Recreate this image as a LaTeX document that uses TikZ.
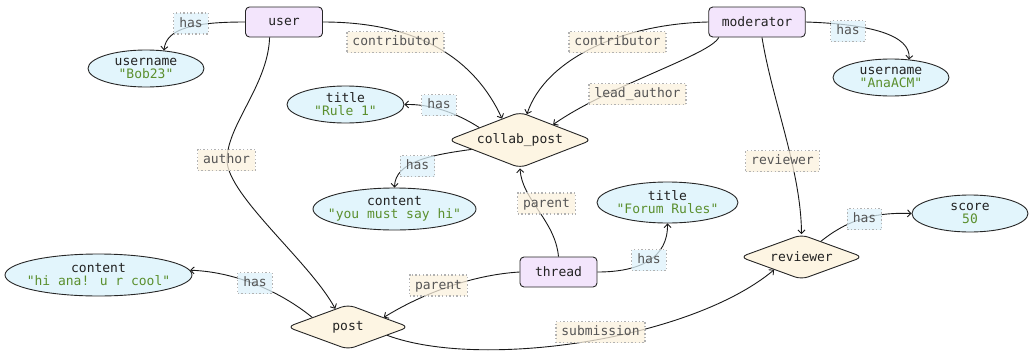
\documentclass[tikz,border=0pt]{standalone}
\usepackage{fontspec}
\setmainfont{DejaVu Sans Mono}[Ligatures=TeXOff]
\usetikzlibrary{shapes.geometric,arrows.meta}
\definecolor{entfill}{HTML}{F3E5FC}
\definecolor{attrfill}{HTML}{E2F5FC}
\definecolor{relfill}{HTML}{FDF5E3}
\definecolor{valgreen}{HTML}{5B8F2E}
\definecolor{hasfill}{HTML}{DDF2FB}
\definecolor{rolefill}{HTML}{FBF1DE}
\definecolor{nodetext}{HTML}{222222}
\definecolor{labeltext}{HTML}{555555}
\begin{document}
\begin{tikzpicture}[x=1pt,y=-1pt,
  every node/.style={font=\fontsize{13}{13}\selectfont},
  entity/.style={draw=black!85, line width=0.9pt, fill=entfill, rounded corners=4pt,
    minimum width=77pt, minimum height=30pt, inner xsep=13pt, text=nodetext},
  attr/.style={ellipse, draw=black!85, line width=0.9pt, fill=attrfill, inner sep=0pt},
  rel/.style={diamond, draw=black!85, line width=0.9pt, fill=relfill, rounded corners=7pt,
    inner sep=0pt, text=nodetext},
  inner/.style={align=center, text=nodetext, inner sep=0pt},
  edge/.style={-{Straight Barb[length=3.5pt,width=7pt]}, line width=0.9pt, black!90},
  elab/.style={draw=gray!60, line width=1.4pt, dash pattern=on 1.4pt off 2.2pt,
    fill opacity=0.75, text opacity=1, text=labeltext, inner xsep=5.5pt, inner ysep=4.5pt,
    text height=9.5pt, text depth=2.5pt},
  haslab/.style={elab, fill=hasfill},
  rolelab/.style={elab, fill=rolefill},
]
\useasboundingbox (0,0) rectangle (1030,351);

% entity nodes
\node[entity] (user) at (284,22) {user};
\node[entity] (moderator) at (757,22) {moderator};
\node[entity] (thread) at (558.5,272) {thread};

% attribute nodes
\node[attr, minimum width=116pt, minimum height=37pt,
  label={[inner, name=un1t]center:{username\\\textcolor{valgreen}{"Bob23"}}}] (un1) at (146,68.5) {};
\node[attr, minimum width=116pt, minimum height=37pt,
  label={[inner, name=un2t]center:{username\\\textcolor{valgreen}{"AnaACM"}}}] (un2) at (891,77.5) {};
\node[attr, minimum width=117pt, minimum height=37pt,
  label={[inner, name=title1t]center:{title\\\textcolor{valgreen}{"Rule 1"}}}] (title1) at (345.5,104.5) {};
\node[attr, minimum width=163pt, minimum height=42pt,
  label={[inner, name=c1t]center:{content\\\textcolor{valgreen}{"you must say hi"}}}] (c1) at (394.5,209) {};
\node[attr, minimum width=187pt, minimum height=42pt,
  label={[inner, name=c2t]center:{content\\\textcolor{valgreen}{"hi ana! u r cool"}}}] (c2) at (98.5,275) {};
\node[attr, minimum width=141pt, minimum height=41pt,
  label={[inner, name=title2t]center:{title\\\textcolor{valgreen}{"Forum Rules"}}}] (title2) at (667.5,202.5) {};
\node[attr, minimum width=116pt, minimum height=37pt,
  label={[inner, name=scoret]center:{score\\\textcolor{valgreen}{50}}}] (score) at (970,213.5) {};

% relationship nodes
\node[rel, minimum width=144pt, minimum height=56pt, aspect=2.57] (collab) at (520,140) {collab\_post};
\node[rel, minimum width=122pt, minimum height=45pt, aspect=2.7] (post) at (348,327) {post};
\node[rel, minimum width=123pt, minimum height=45pt, aspect=2.7] (reviewer) at (801.5,257) {reviewer};

% connectors
\draw[edge] (user.west) .. controls (195,22) and (166,28) .. (un1.45);
\draw[edge] (user.east) .. controls (420,22) and (475,60) .. (collab.130);
\draw[edge] (user.-133) .. controls (268,85) and (227,125) .. (227,160)
  .. controls (227,195) and (310,262) .. (post.125);
\draw[edge] (moderator.west) .. controls (620,24) and (545,60) .. (collab.75);
\draw[edge] (moderator.-158) .. controls (710,55) and (610,85) .. (collab.25);
\draw[edge] (moderator.east) .. controls (870,24) and (911,35) .. (un2.45);
\draw[edge] (moderator.-72) .. controls (772,100) and (801,170) .. (reviewer.north);
\draw[edge] (collab.163) .. controls (455,112) and (430,104) .. (title1.east);
\draw[edge] (collab.-169) .. controls (430,155) and (395,162) .. (c1.north);
\draw[edge] (thread.north) .. controls (555,220) and (522,200) .. (collab.south);
\draw[edge] (thread.east) .. controls (640,272) and (668,258) .. (title2.south);
\draw[edge] (thread.west) .. controls (470,275) and (420,295) .. (post.15);
\draw[edge] (post.165) .. controls (285,295) and (240,272) .. (c2.3);
\draw[edge] (post.-12) .. controls (480,370) and (690,340) .. (reviewer.-155);
\draw[edge] (reviewer.39) .. controls (845,222) and (870,212) .. (score.west);

% connector labels
\node[haslab] (lhas1) at (191,23.5) {has};
\node[rolelab] (lcontrib1) at (395.5,42) {contributor};
\node[rolelab] (lcontrib2) at (617.5,42) {contributor};
\node[rolelab] (llead) at (637.5,94) {lead\_author};
\node[haslab] (lhas2) at (848,31) {has};
\node[rolelab] (lreviewer) at (782.5,161) {reviewer};
\node[rolelab] (lauthor) at (226.5,160) {author};
\node[haslab] (lhas3) at (439,105) {has};
\node[haslab] (lhas4) at (417.5,166) {has};
\node[rolelab] (lparent1) at (546.5,203.5) {parent};
\node[haslab] (lhas5) at (649,260) {has};
\node[rolelab] (lparent2) at (438.5,285.5) {parent};
\node[haslab] (lhas6) at (255,283) {has};
\node[rolelab] (lsub) at (600.5,332) {submission};
\node[haslab] (lhas7) at (864.5,219) {has};
\end{tikzpicture}
\end{document}
